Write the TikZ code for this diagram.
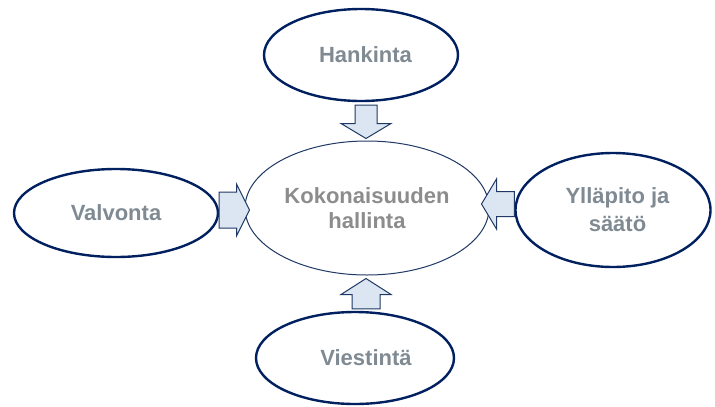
\documentclass[tikz,border=0pt]{standalone}
\usepackage{fontspec}
\setmainfont{Liberation Sans}
\usetikzlibrary{positioning,calc,shapes.geometric}
\definecolor{navy}{RGB}{0,32,96}
\definecolor{linkblue}{RGB}{31,56,100}
\definecolor{arrfill}{RGB}{220,230,242}
\definecolor{slategray}{RGB}{127,138,146}
\definecolor{midgray}{RGB}{140,140,140}
\tikzset{
  outer/.style={ellipse,draw=navy,line width=2.4pt,inner sep=0pt,
    font=\bfseries\fontsize{22}{28}\selectfont,text=slategray,align=center},
  hub/.style={ellipse,draw=linkblue,line width=1pt,inner sep=0pt,
    font=\bfseries\fontsize{22}{25}\selectfont,text=midgray,align=center},
  blockarrow/.style={draw=linkblue,fill=arrfill,line width=1pt,line join=miter}
}
% #1 start, #2 tip, #3 half shaft, #4 half head, #5 head length
\newcommand*{\blk}[5]{%
  \coordinate (hb) at ($(#2)!#5!(#1)$);
  \draw[blockarrow] ($(#1)!#3!90:(#2)$) -- ($(hb)!#3!90:(#2)$)
    -- ($(hb)!#4!90:(#2)$) -- (#2) -- ($(hb)!#4!-90:(#2)$)
    -- ($(hb)!#3!-90:(#2)$) -- ($(#1)!#3!-90:(#2)$) -- cycle;}

\begin{document}
\begin{tikzpicture}[x=1pt,y=-1pt]
\useasboundingbox (0,0) rectangle (715,407);
\node[hub,minimum width=244pt,minimum height=134pt] (center) at (367,208) {Kokonaisuuden\\hallinta};
\node[outer,minimum width=194pt,minimum height=92pt] (hank) at (361,55) {\hspace*{9pt}Hankinta};
\node[outer,minimum width=204pt,minimum height=88pt] (valv) at (116,213) {Valvonta};
\node[outer,minimum width=195pt,minimum height=114pt] (yll) at (613,210) {\hspace*{9pt}Ylläpito ja\\\hspace*{9pt}säätö};
\node[outer,minimum width=198pt,minimum height=92pt] (vies) at (355,358) {\hspace*{22pt}Viestintä};

% arrow ends
\coordinate (a1s) at ([xshift=5pt,yshift=-3pt]hank.south);
\coordinate (a1t) at ([xshift=-1pt,yshift=2pt]center.north);
\coordinate (a2s) at ([yshift=3pt]valv.east);
\coordinate (a2t) at ([xshift=5pt,yshift=-2pt]center.west);
\coordinate (a3s) at ([yshift=6pt]yll.west);
\coordinate (a3t) at ([xshift=-8pt,yshift=4pt]center.east);
\coordinate (a4s) at ([xshift=11pt,yshift=2pt]vies.north);
\coordinate (a4t) at ([xshift=-1pt,yshift=-3pt]center.south);
\blk{a1s}{a1t}{11pt}{25pt}{15pt}
\blk{a2s}{a2t}{18pt}{26pt}{13pt}
\blk{a3s}{a3t}{12.5pt}{25pt}{15pt}
\blk{a4s}{a4t}{14pt}{25pt}{16pt}
\end{tikzpicture}
\end{document}
